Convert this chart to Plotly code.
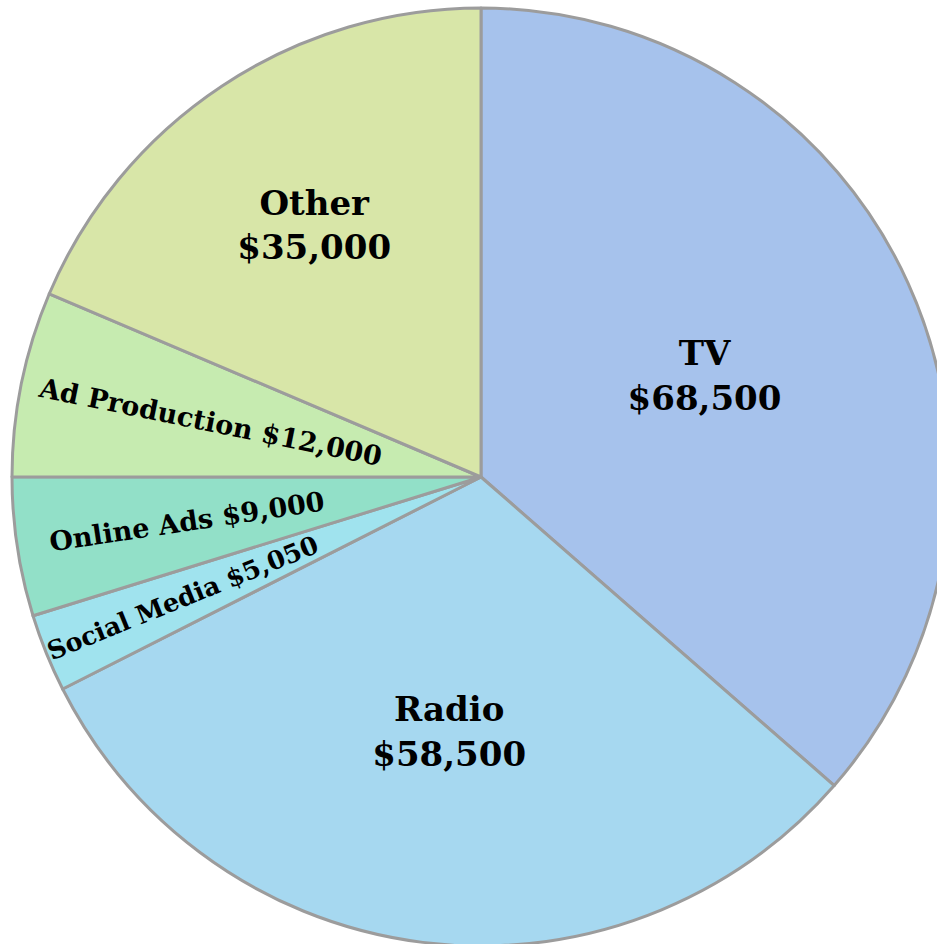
import plotly.graph_objects as go

labels = ["TV", "Radio", "Social Media", "Online Ads", "Ad Production", "Other"]
values = [68500, 58500, 5050, 9000, 12000, 35000]
colors = ["#a6c2ec", "#a6d8f0", "#a0e3ee", "#92e0c8", "#c6ebb0", "#d8e6a8"]
big = [True, True, False, False, False, True]

big_tmpl = ["%{label}<br>$%{value:,}" if b else "" for b in big]
small_tmpl = ["" if b else "%{label} $%{value:,}" for b in big]

W, H = 960, 960
cx, cy, r = 481, 477, 469
dom_x = [(cx - r) / W, (cx + r) / W]
dom_y = [1 - (cy + r) / H, 1 - (cy - r) / H]

fig = go.Figure()
fig.add_trace(go.Pie(
    labels=labels, values=values, sort=False, direction="clockwise", rotation=0,
    marker=dict(colors=colors, line=dict(color="#9c9c9c", width=3)),
    texttemplate=big_tmpl, textposition="inside", insidetextorientation="horizontal",
    textfont=dict(family="DejaVu Serif", size=34, color="#000000", weight="bold"),
    showlegend=False, hoverinfo="label+value",
    domain=dict(x=dom_x, y=dom_y),
))
fig.add_trace(go.Pie(
    labels=labels, values=values, sort=False, direction="clockwise", rotation=0,
    marker=dict(colors=["rgba(0,0,0,0)"] * len(labels), line=dict(width=0)),
    texttemplate=small_tmpl, textposition="inside", insidetextorientation="radial",
    textfont=dict(family="DejaVu Serif", size=27, color="#000000", weight="bold"),
    showlegend=False, hoverinfo="skip",
    domain=dict(x=dom_x, y=dom_y),
))
fig.update_layout(
    width=W, height=H, margin=dict(l=0, r=0, t=0, b=0),
    paper_bgcolor="white", plot_bgcolor="white",
)
fig.write_html(
    "out.html",
    config={"displayModeBar": False},
    post_script="document.body.style.margin='0';document.body.style.overflow='hidden';document.documentElement.style.overflow='hidden';",
)
